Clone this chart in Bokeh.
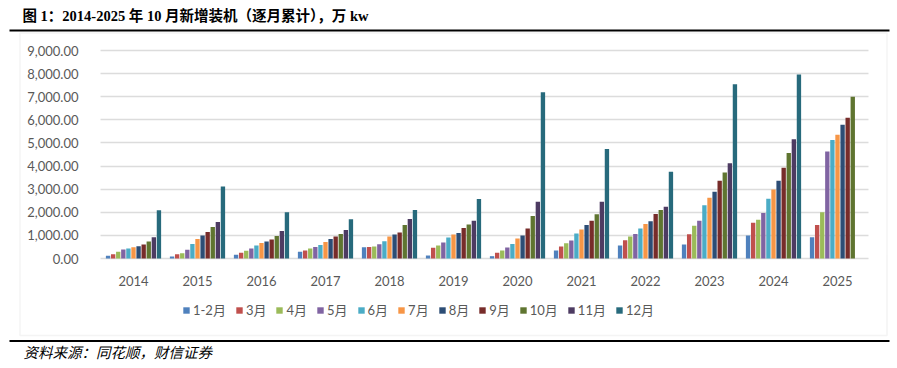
from bokeh.plotting import figure
from bokeh.models import (ColumnDataSource, Range1d, NumeralTickFormatter, FixedTicker,
                          CustomJSTickFormatter, Legend, LegendItem, Label, BoxAnnotation)
from bokeh.embed import file_html
from bokeh.resources import INLINE

years = ["2014", "2015", "2016", "2017", "2018", "2019", "2020", "2021", "2022", "2023", "2024", "2025"]
months = ["1-2月", "3月", "4月", "5月", "6月", "7月", "8月", "9月", "10月", "11月", "12月"]
y_ticks = [0, 1000, 2000, 3000, 4000, 5000, 6000, 7000, 8000, 9000]

m01_02 = [115, 86, 158, 287, 488, 129, 100, 345, 560, 603, 991, 920]
m03 = [187, 187, 244, 345, 503, 460, 244, 517, 790, 1049, 1552, 1451]
m04 = [287, 230, 330, 431, 517, 560, 345, 661, 948, 1422, 1681, 1997]
m05 = [388, 374, 431, 503, 617, 690, 474, 776, 1063, 1638, 1969, 4626]
m06 = [431, 632, 560, 589, 747, 905, 632, 1078, 1293, 2299, 2586, 5129]
m07 = [488, 848, 675, 718, 948, 1034, 862, 1250, 1494, 2629, 2988, 5359]
m08 = [532, 991, 733, 848, 1034, 1106, 991, 1451, 1609, 2888, 3362, 5790]
m09 = [603, 1149, 819, 948, 1121, 1322, 1293, 1638, 1925, 3362, 3922, 6092]
m10 = [733, 1365, 977, 1063, 1451, 1466, 1839, 1911, 2098, 3721, 4569, 6997]
m11 = [920, 1580, 1192, 1236, 1710, 1638, 2457, 2457, 2241, 4124, 5158, None]
m12 = [2083, 3118, 1997, 1695, 2098, 2572, 7198, 4741, 3750, 7543, 7960, None]

series = [m01_02, m03, m04, m05, m06, m07, m08, m09, m10, m11, m12]
colors = ["#4F81BD", "#C0504D", "#9BBB59", "#8064A2", "#4BACC6", "#F79646",
          "#2C4D75", "#772C2A", "#5F7530", "#4D3B62", "#276A7C"]

title_text = "图 1：2014-2025 年 10 月新增装机（逐月累计），万 kw"
source_text = "资料来源：同花顺，财信证券"

# ---- canvas geometry (pixels) ----
W, H = 897, 368
PX_PER_CAT = 64.0
FIRST_CENTER_PX = 133.0
Y_ZERO_PX, Y_TOP_PX, Y_TOP_VAL = 258.0, 50.0, 9000.0
K = Y_TOP_VAL / (Y_ZERO_PX - Y_TOP_PX)
X0 = -FIRST_CENTER_PX / PX_PER_CAT


def px2x(px):
    return X0 + px / PX_PER_CAT


def py2y(py):
    return (Y_ZERO_PX - py) * K


p = figure(width=W, height=H, output_backend="svg", toolbar_location=None,
           x_range=Range1d(px2x(0), px2x(W)), y_range=Range1d(py2y(H), py2y(0)),
           min_border=0, min_border_left=0, min_border_right=0,
           min_border_top=0, min_border_bottom=0)
p.outline_line_color = None
p.background_fill_color = "white"
p.border_fill_color = "white"

slot = 0.0795
items = []
for i, (name, vals, col) in enumerate(zip(months, series, colors)):
    xs = [k + (i - 5) * slot for k in range(len(years))]
    src = ColumnDataSource(dict(x=xs, top=[float("nan") if v is None else v for v in vals]))
    r = p.vbar(x="x", top="top", width=0.068, bottom=0, source=src,
               fill_color=col, line_color=None)
    items.append(LegendItem(label=name, renderers=[r]))

axis_font = "Lato, Noto Sans CJK SC"
lab_col = "#595959"

yt = FixedTicker(ticks=y_ticks)
p.yaxis.ticker = yt
p.ygrid.ticker = yt
p.yaxis.fixed_location = px2x(100)
p.yaxis.formatter = NumeralTickFormatter(format="0,0.00")
p.yaxis.axis_line_color = None
p.yaxis.major_tick_line_color = None
p.yaxis.minor_tick_line_color = None
p.yaxis.major_label_standoff = 16
p.yaxis.major_label_text_font = axis_font
p.yaxis.major_label_text_font_size = "13px"
p.yaxis.major_label_text_color = lab_col

xt = FixedTicker(ticks=list(range(len(years))))
p.xaxis.ticker = xt
p.xaxis.fixed_location = 0
p.xaxis.formatter = CustomJSTickFormatter(args=dict(years=years),
                                          code="const i = Math.round(tick); return (i >= 0 && i < years.length) ? years[i] : '';")
p.xaxis.axis_line_color = None
p.xaxis.major_tick_line_color = None
p.xaxis.minor_tick_line_color = None
p.xaxis.major_label_standoff = 11
p.xaxis.major_label_text_font = axis_font
p.xaxis.major_label_text_font_size = "13px"
p.xaxis.major_label_text_color = lab_col

p.xgrid.grid_line_color = None
p.ygrid.grid_line_color = "#DCDCDC"
p.ygrid.grid_line_width = 1.5

try:
    p.ygrid.cross_bounds = (px2x(100), px2x(868))
except Exception:
    for l, r_ in ((0, 99.5), (868.5, W)):
        p.add_layout(BoxAnnotation(left=px2x(l), right=px2x(r_), top=py2y(40), bottom=py2y(265),
                                   fill_color="white", fill_alpha=1, line_color=None, level="underlay"))

# outer box
p.add_layout(BoxAnnotation(left=px2x(19.5), right=px2x(886.5), top=py2y(32.5), bottom=py2y(335),
                           fill_alpha=0, line_color="#D9D9D9", line_width=1.5, level="underlay"))
# title and source rules
p.add_layout(BoxAnnotation(left=px2x(9), right=px2x(889), top=py2y(29), bottom=py2y(31),
                           fill_color="black", fill_alpha=1, line_color=None, level="overlay"))
p.add_layout(BoxAnnotation(left=px2x(9), right=px2x(889), top=py2y(339.5), bottom=py2y(341.5),
                           fill_color="black", fill_alpha=1, line_color=None, level="overlay"))

legend = Legend(items=items, orientation="horizontal", location=(182, 49),
                glyph_width=8, glyph_height=8, label_standoff=3, spacing=9,
                padding=0, margin=0, border_line_color=None, background_fill_alpha=0,
                label_text_font=axis_font, label_text_font_size="13px",
                label_text_color=lab_col, label_height=16)
p.add_layout(legend, "center")

p.add_layout(Label(x=px2x(22), y=py2y(15.5), text=title_text,
                   text_font="Liberation Serif, Noto Sans CJK SC", text_font_style="bold",
                   text_font_size="14.5px", text_color="black", text_baseline="middle",
                   text_align="left"))
p.add_layout(Label(x=px2x(23), y=py2y(351), text=source_text,
                   text_font="Noto Sans CJK SC", text_font_style="italic",
                   text_font_size="14.5px", text_color="black", text_baseline="middle",
                   text_align="left"))

open("out.html", "w").write(file_html(p, INLINE))
